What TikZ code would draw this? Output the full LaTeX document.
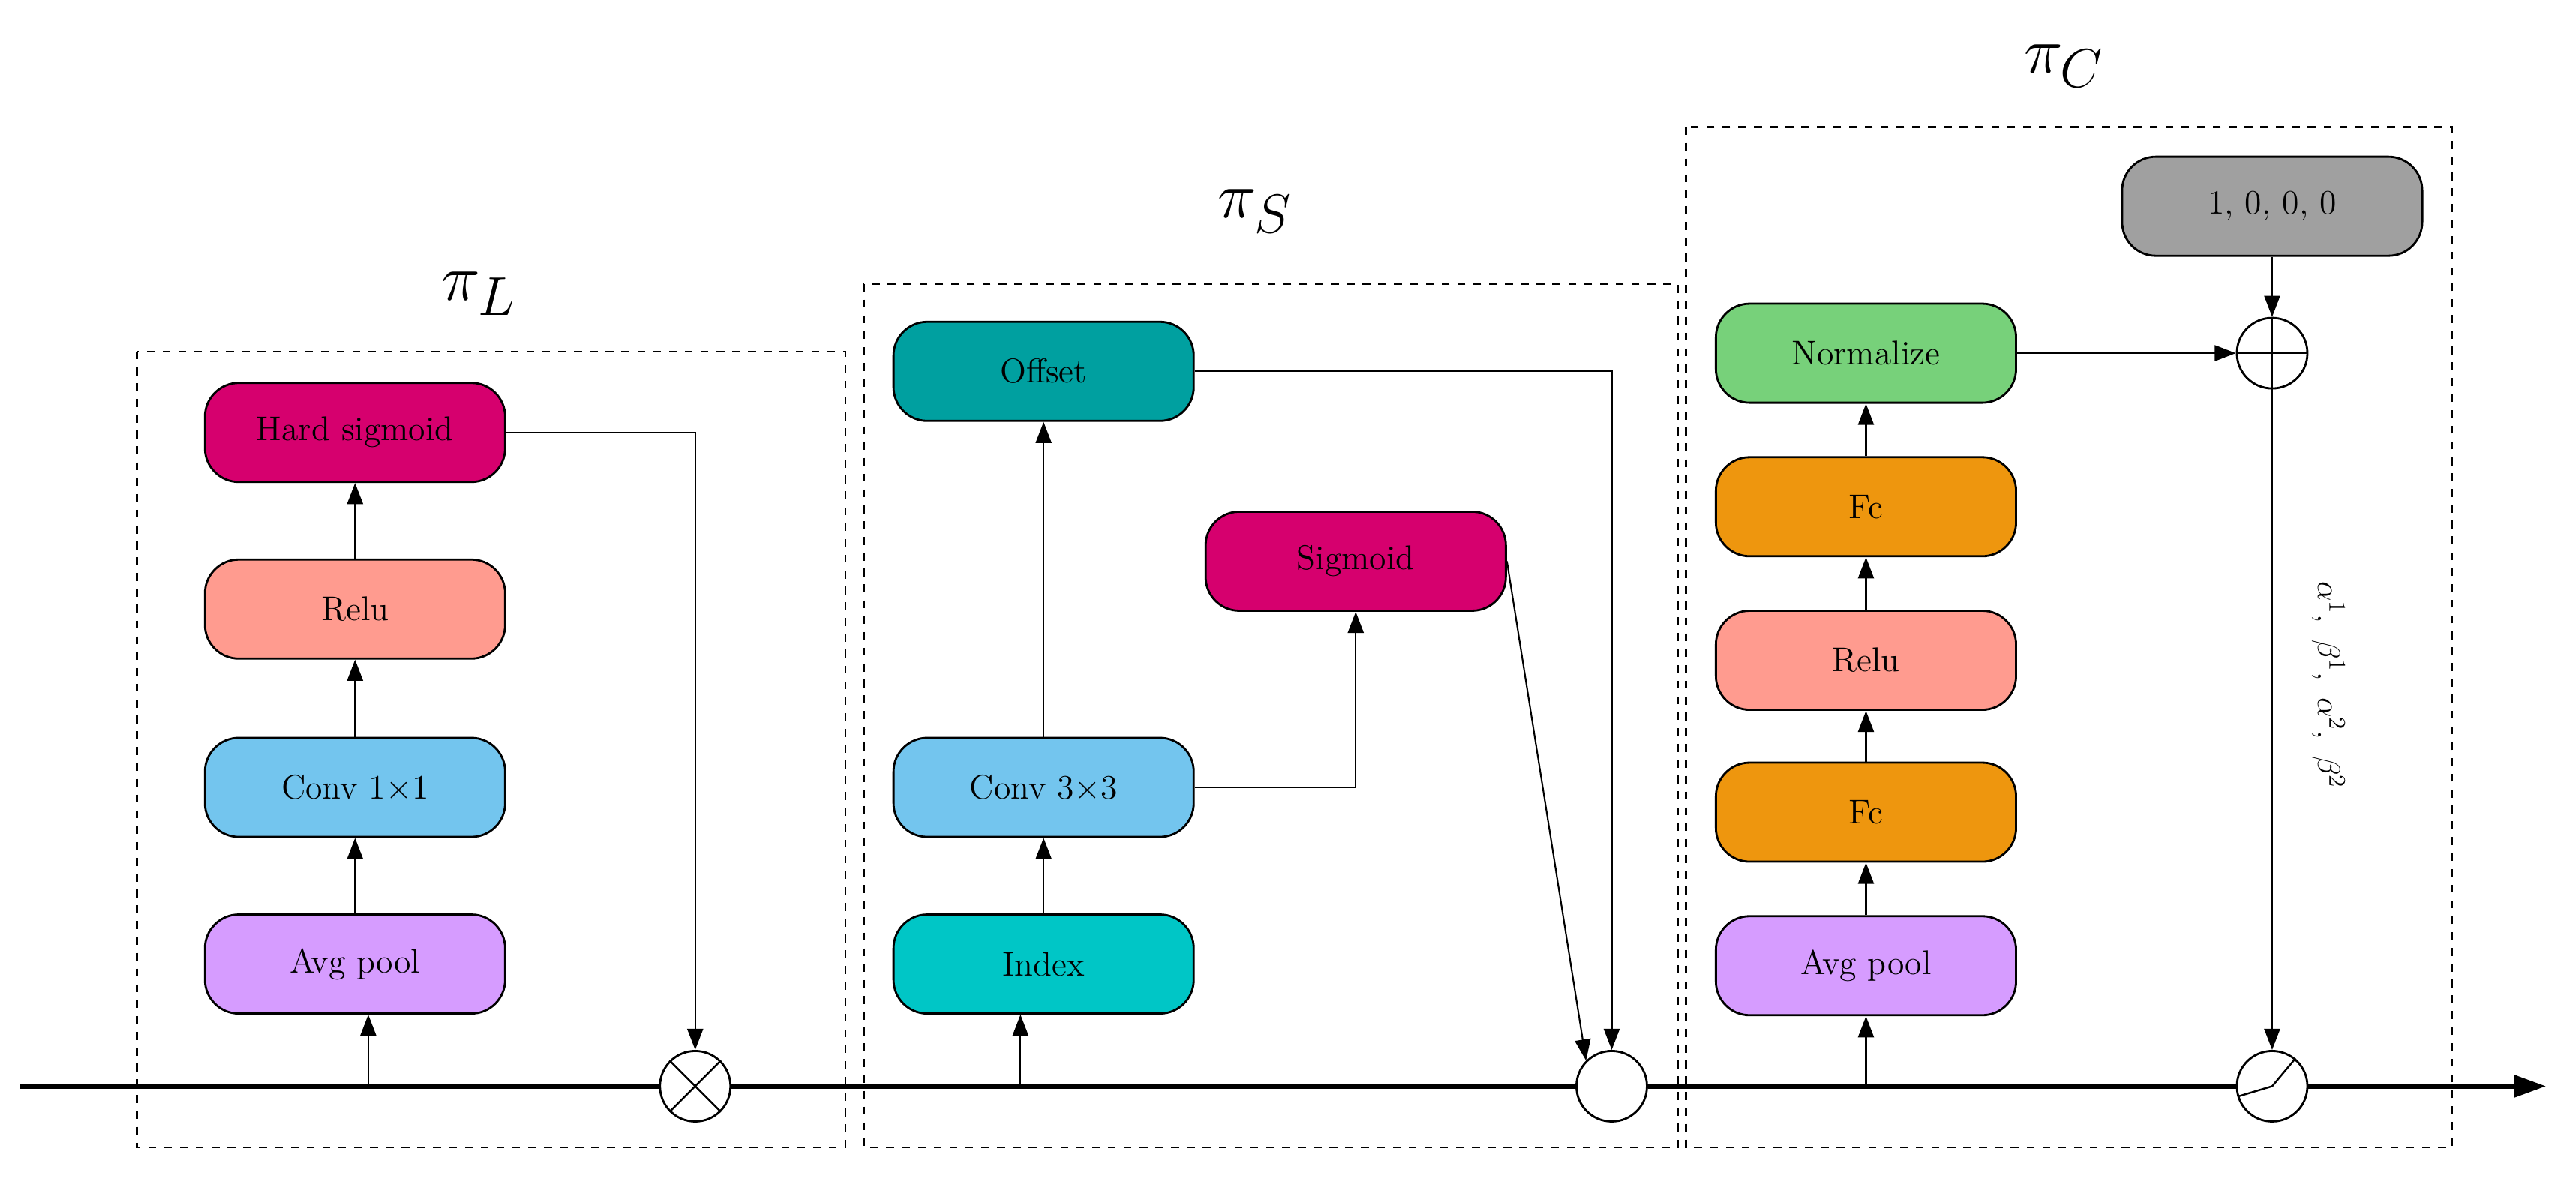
\documentclass[tikz,border=0pt]{standalone}
\usetikzlibrary{arrows.meta}
\begin{document}
\begin{tikzpicture}[x=0.022cm,y=-0.022cm,
 blk/.style={draw,line width=0.8pt,rounded corners=0.45cm,minimum width=4.0cm,minimum height=1.32cm,font=\fontsize{13}{15}\selectfont},
 cir/.style={draw,circle,line width=0.8pt,minimum size=0.94cm,inner sep=0pt},
 box/.style={draw,dashed,line width=0.7pt},
 ar/.style={-{Triangle[length=8pt,width=6pt]},line width=0.6pt},
 lab/.style={font=\fontsize{30}{32}\selectfont}]
\useasboundingbox (0,0) rectangle (1560,719);
\definecolor{mag}{HTML}{D6006E}\definecolor{sal}{HTML}{FF9B8F}
\definecolor{lb}{HTML}{73C5EE}\definecolor{vio}{HTML}{D69CFF}
\definecolor{teal1}{HTML}{00A0A0}\definecolor{cyan1}{HTML}{00C6C6}
\definecolor{grn}{HTML}{77D17A}\definecolor{org}{HTML}{EE960E}
\definecolor{gry}{HTML}{A0A0A0}
% boxes
\draw[box] (83,213) rectangle (512,695);
\draw[box] (523,172) rectangle (1016,695);
\draw[box] (1021,77) rectangle (1485,695);
\node[lab] at (290,178) {$\pi_L$};
\node[lab] at (760,128) {$\pi_S$};
\node[lab] at (1250,40) {$\pi_C$};
% L
\node[blk,fill=mag] (hs) at (215,262) {Hard sigmoid};
\node[blk,fill=sal] (r1) at (215,369) {Relu};
\node[blk,fill=lb] (c1) at (215,477) {Conv 1×1};
\node[blk,fill=vio] (a1) at (215,584) {Avg pool};
% S
\node[blk,fill=teal1] (off) at (632,225) {Offset};
\node[blk,fill=mag] (sig) at (821,340) {Sigmoid};
\node[blk,fill=lb] (c3) at (632,477) {Conv 3×3};
\node[blk,fill=cyan1] (idx) at (632,584) {Index};
% C
\node[blk,fill=grn] (nor) at (1130,214) {Normalize};
\node[blk,fill=org] (fc2) at (1130,307) {Fc};
\node[blk,fill=sal] (r2) at (1130,400) {Relu};
\node[blk,fill=org] (fc1) at (1130,492) {Fc};
\node[blk,fill=vio] (a2) at (1130,585) {Avg pool};
\node[blk,fill=gry] (one) at (1376,125) {1, 0, 0, 0};
% circles
\node[cir] (mul) at (421,658) {};
\node[cir] (sc) at (976,658) {};
\node[cir] (add) at (1376,214) {};
\node[cir] (sw) at (1376,658) {};
\draw[line width=0.7pt] (mul.north east)--(mul.south west) (mul.north west)--(mul.south east);
\draw[line width=0.7pt] (add.north)--(add.south) (add.west)--(add.east);
\draw[line width=0.7pt] ([shift={(-20,6)}]sw.center)--(sw.center)--(sw.50);
% main line
\coordinate (st) at (12,658); \coordinate (en) at (1542,658);
\draw[line width=2pt] (st)--(mul.west) (mul.east)--(sc.west) (sc.east)--(sw.west);
\draw[line width=2pt,-{Triangle[length=12pt,width=8pt]}] (sw.east)--(en);
% L arrows
\coordinate (pa1) at (223,658); \coordinate (pidx) at (618,658); \coordinate (pa2) at (1130,658);
\draw[ar] (pa1)--(a1.south-|pa1);
\draw[ar] (a1)--(c1); \draw[ar] (c1)--(r1); \draw[ar] (r1)--(hs);
\draw[ar] (hs.east)-|(mul.north);
% S arrows
\draw[ar] (pidx)--(idx.south-|pidx);
\draw[ar] (idx)--(c3); \draw[ar] (c3)--(off);
\draw[ar] (c3.east)-|(sig.south);
\draw[ar] (off.east)-|(sc.north);
\draw[ar] (sig.east)--(sc.north west);
% C arrows
\draw[ar] (pa2)--(a2.south);
\draw[ar] (a2)--(fc1); \draw[ar] (fc1)--(r2); \draw[ar] (r2)--(fc2); \draw[ar] (fc2)--(nor);
\draw[ar] (nor)--(add.west);
\draw[ar] (one)--(add.north);
\draw[ar] (add.south)--(sw.north);
\node[rotate=-90,font=\fontsize{13}{15}\selectfont] (alab) at (1410,415) {$\alpha^1,\ \beta^1,\ \alpha^2,\ \beta^2$};
\end{tikzpicture}
\end{document}
